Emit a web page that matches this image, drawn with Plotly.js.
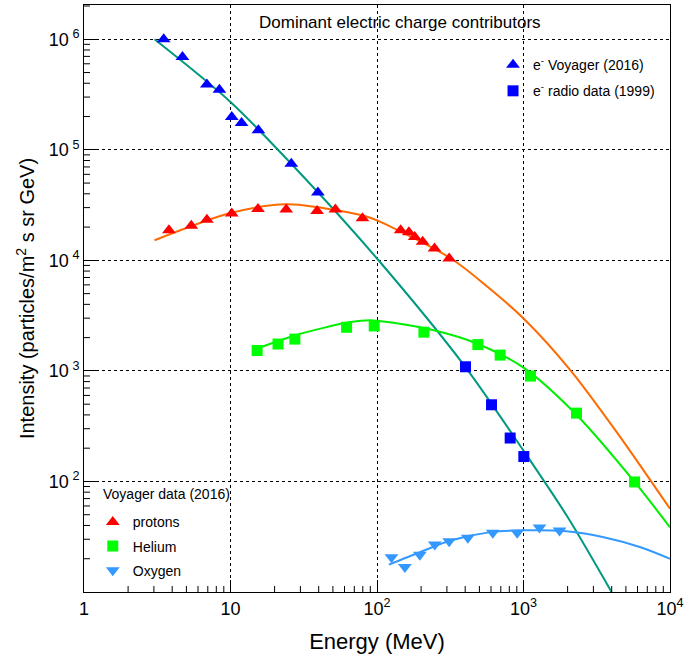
<!DOCTYPE html>
<html>
<head>
<meta charset="utf-8">
<script src="https://cdn.plot.ly/plotly-3.0.1.min.js"></script>
<style>html,body{margin:0;padding:0;background:#fff;}#chart{width:693px;height:662px;}</style>
</head>
<body>
<div id="chart"></div>
<script>
// ---- Data (energy in MeV, intensity in particles/m^2 s sr GeV) ----
var eVoyagerE = [3.5, 4.7, 6.9, 8.4, 10.2, 11.9, 15.5, 26, 39.5];
var eVoyagerI = [1.0e6, 6.9e5, 3.9e5, 3.5e5, 1.98e5, 1.75e5, 1.5e5, 7.5e4, 4.1e4];

var eRadioE = [402, 605, 811, 1005];
var eRadioI = [1090, 494, 247, 168];

var protonE = [3.8, 5.4, 6.9, 10.2, 15.4, 24, 39, 52, 79.6, 145, 165, 181, 205, 247, 311];
var protonI = [1.87e4, 2.06e4, 2.33e4, 2.65e4, 2.91e4, 2.88e4, 2.79e4, 2.88e4, 2.4e4, 1.87e4, 1.8e4, 1.63e4, 1.47e4, 1.28e4, 1.04e4];

var heliumE = [15.2, 21.1, 27.5, 62, 95.7, 209, 488, 693, 1116, 2300, 5730];
var heliumI = [1530, 1750, 1940, 2480, 2550, 2240, 1730, 1390, 898, 415, 99];

var oxygenE = [125.6, 155, 196, 248, 311, 417, 617, 906, 1286, 1762];
var oxygenI = [20.6, 16.8, 21.7, 26.9, 28.8, 31.0, 34.4, 34.4, 38.4, 36.0];

// fitted model curves
var eFitE = [3.03, 10, 31.6, 100, 398, 1000, 1995, 3990];
var eFitI = [1.0e6, 2.71e5, 5.68e4, 1.04e4, 1.1e3, 190, 47.9, 10];

var pFitE = [3.03, 10, 24, 80, 100, 316, 536, 1005, 2094, 4365, 10000];
var pFitI = [1.52e4, 2.68e4, 3.21e4, 2.55e4, 2.3e4, 1.05e4, 6150, 2965, 1012, 275, 56.6];

var heFitE = [14.1, 27.5, 65.9, 95, 244, 483, 1005, 2323, 5730, 10000];
var heFitI = [1535, 2094, 2767, 2864, 2328, 1762, 1064, 395, 99, 38.5];

var oFitE = [120.5, 196, 318, 596, 1005, 1884, 3532, 6295, 10000];
var oFitI = [17.7, 22.9, 29.2, 34.8, 36.1, 35.6, 31.3, 25.4, 20.0];

// axis ticks
var xTickVals = [1, 10, 100, 1000, 10000];
var xTickText = ['1', '10', '10<sup>2</sup>', '10<sup>3</sup>', '10<sup>4</sup>'];
var yTickVals = [100, 1000, 10000, 100000, 1000000];
var yTickText = ['10\u2009<sup>2</sup>', '10\u2009<sup>3</sup>', '10\u2009<sup>4</sup>', '10\u2009<sup>5</sup>', '10\u2009<sup>6</sup>'];
var xDecades = [0, 1, 2, 3];
var yDecades = [1, 2, 3, 4, 5, 6];

var FONT = 'Liberation Sans, Arial, Helvetica, sans-serif';

var W = 693, H = 662, M = {l: 84, r: 23, t: 5, b: 70};
var plotW = W - M.l - M.r, plotH = H - M.t - M.b;
var xRange = [0, 4];
var yRange = [1, 6.31];

// minor tick marks (2..9 in every decade), drawn as short inside ticks
var shapes = [];
xDecades.forEach(function (d) {
  for (var k = 2; k <= 9; k++) {
    var v = k * Math.pow(10, d);
    shapes.push({type: 'line', xref: 'x', yref: 'paper', x0: v, x1: v, y0: 0, y1: 6 / plotH,
                 line: {color: '#000', width: 1}, layer: 'above'});
  }
});
yDecades.forEach(function (d) {
  for (var k = 2; k <= 9; k++) {
    var v = k * Math.pow(10, d);
    if (Math.log10(v) > yRange[1]) continue;
    shapes.push({type: 'line', xref: 'paper', yref: 'y', x0: 0, x1: 6 / plotW, y0: v, y1: v,
                 line: {color: '#000', width: 1}, layer: 'above'});
  }
});

var traces = [
  {x: eFitE, y: eFitI, mode: 'lines', line: {color: '#00997f', width: 2, shape: 'spline', smoothing: 0.8}, showlegend: false, hoverinfo: 'skip'},
  {x: pFitE, y: pFitI, mode: 'lines', line: {color: '#ff6a00', width: 2, shape: 'spline', smoothing: 0.8}, showlegend: false, hoverinfo: 'skip'},
  {x: heFitE, y: heFitI, mode: 'lines', line: {color: '#00ee00', width: 2, shape: 'spline', smoothing: 0.8}, showlegend: false, hoverinfo: 'skip'},
  {x: oFitE, y: oFitI, mode: 'lines', line: {color: '#3399ff', width: 2, shape: 'spline', smoothing: 0.8}, showlegend: false, hoverinfo: 'skip'},
  {x: eVoyagerE, y: eVoyagerI, mode: 'markers', name: 'e<sup>-</sup> Voyager (2016)', legend: 'legend', legendgroup: 'a',
   marker: {symbol: 'triangle-up', color: '#0000ff', size: 12}},
  {x: eRadioE, y: eRadioI, mode: 'markers', name: 'e<sup>-</sup> radio data (1999)', legend: 'legend', legendgroup: 'b',
   marker: {symbol: 'square', color: '#0000ff', size: 11}},
  {x: protonE, y: protonI, mode: 'markers', name: 'protons', legend: 'legend2', legendgroup: 'c',
   marker: {symbol: 'triangle-up', color: '#ff0000', size: 12}},
  {x: heliumE, y: heliumI, mode: 'markers', name: 'Helium', legend: 'legend2', legendgroup: 'd',
   marker: {symbol: 'square', color: '#00ff00', size: 11}},
  {x: oxygenE, y: oxygenI, mode: 'markers', name: 'Oxygen', legend: 'legend2', legendgroup: 'e',
   marker: {symbol: 'triangle-down', color: '#3399ff', size: 12}}
];

var layout = {
  width: W, height: H,
  margin: M,
  paper_bgcolor: '#ffffff', plot_bgcolor: '#ffffff',
  font: {family: FONT, color: '#000000'},
  xaxis: {
    type: 'log', range: xRange,
    tickmode: 'array', tickvals: xTickVals, ticktext: xTickText,
    tickfont: {size: 18, family: FONT},
    ticks: 'inside', ticklen: 12, tickcolor: '#000', tickwidth: 1,
    showline: true, linecolor: '#000', linewidth: 1, mirror: true,
    showgrid: true, gridcolor: '#000', griddash: 'dot', gridwidth: 1,
    zeroline: false, layer: 'above traces',
    title: {text: 'Energy (MeV)', font: {size: 22, family: FONT}, standoff: 16}
  },
  yaxis: {
    type: 'log', range: yRange,
    tickmode: 'array', tickvals: yTickVals, ticktext: yTickText,
    tickfont: {size: 18, family: FONT},
    ticks: 'inside', ticklen: 12, tickcolor: '#000', tickwidth: 1,
    showline: true, linecolor: '#000', linewidth: 1, mirror: true,
    showgrid: true, gridcolor: '#000', griddash: 'dot', gridwidth: 1,
    zeroline: false, ticklabelstandoff: 0, layer: 'above traces',
    title: {text: 'Intensity (particles/m<sup>2</sup> s sr GeV)', font: {size: 20, family: FONT}, standoff: 8}
  },
  shapes: shapes,
  legend: {
    x: 0.698, y: 0.925, xanchor: 'left', yanchor: 'top',
    bgcolor: 'rgba(0,0,0,0)', borderwidth: 0,
    font: {size: 14, family: FONT}, tracegroupgap: 5
  },
  legend2: {
    x: 0.015, y: 0.146, xanchor: 'left', yanchor: 'top',
    bgcolor: 'rgba(0,0,0,0)', borderwidth: 0,
    font: {size: 14, family: FONT}, tracegroupgap: 3
  },
  annotations: [{
    text: 'Dominant electric charge contributors',
    xref: 'paper', yref: 'paper', x: 0.539, y: 0.971,
    xanchor: 'center', yanchor: 'middle', showarrow: false,
    font: {size: 17, family: FONT, color: '#000'}
  }, {
    text: 'Voyager data (2016)',
    xref: 'paper', yref: 'paper', x: 0.029, y: 0.167,
    xanchor: 'left', yanchor: 'middle', showarrow: false,
    font: {size: 14, family: FONT, color: '#000'}
  }]
};

Plotly.newPlot('chart', traces, layout, {displayModeBar: false, staticPlot: true});
</script>
</body>
</html>
